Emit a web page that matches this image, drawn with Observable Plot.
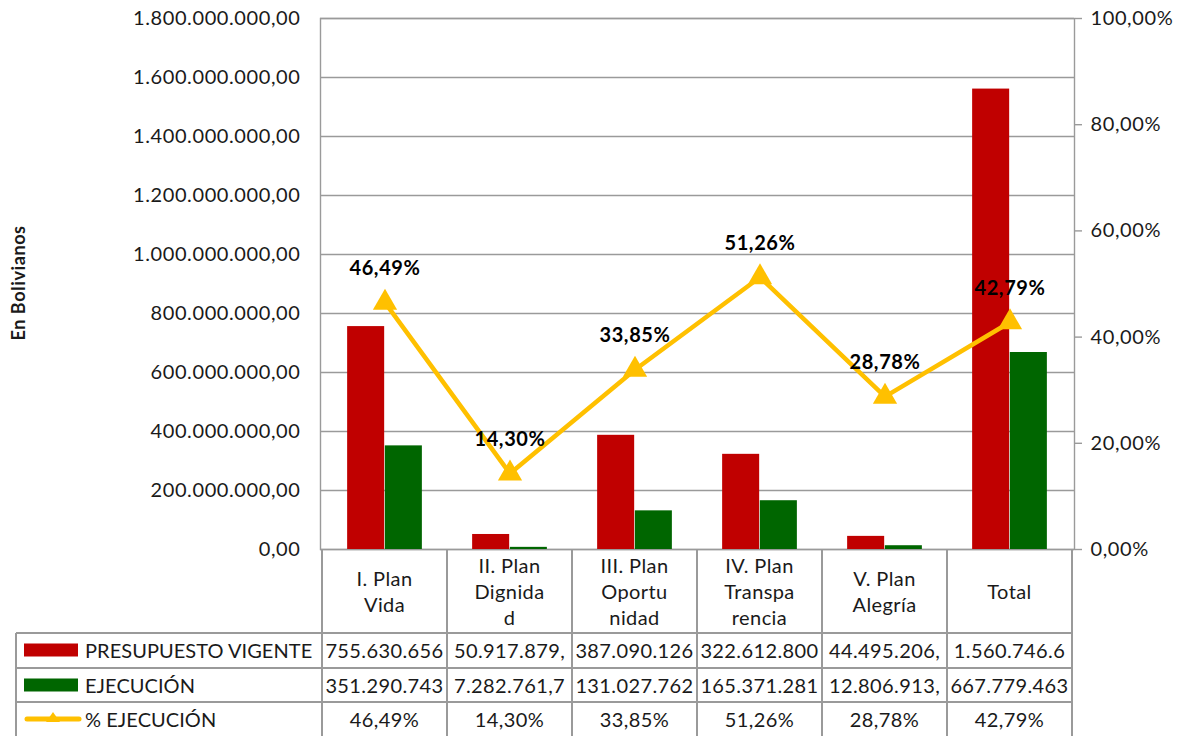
<!DOCTYPE html>
<html>
<head>
<meta charset="utf-8">
<script src="https://cdn.jsdelivr.net/npm/d3@7"></script>
<script src="https://cdn.jsdelivr.net/npm/@observablehq/plot@0.6"></script>
<style>
  html, body { margin: 0; padding: 0; background: #fff; }
  #wrap { position: relative; width: 1186px; height: 736px; overflow: hidden; font-family: Lato, "Noto Sans", sans-serif; color: #1a1a1a; }
  #chart { position: absolute; left: 0; top: 0; }
  #chart text { letter-spacing: 0.6px; }
  .hl, .vl { position: absolute; background: #9a9a9a; }
  .cell { position: absolute; display: flex; align-items: center; justify-content: center; text-align: center; font-size: 20px; line-height: 26px; white-space: nowrap; letter-spacing: 0.4px; }
  .rowlab { position: absolute; display: flex; align-items: center; font-size: 20px; white-space: nowrap; letter-spacing: 0.05px; }
  #ytitle { position: absolute; left: 18px; top: 283px; transform: translate(-50%, -50%) rotate(-90deg); font-weight: bold; font-size: 18px; letter-spacing: 0.6px; white-space: nowrap; }
</style>
</head>
<body>
<div id="wrap">
  <div id="chart"></div>
  <div id="ytitle">En Bolivianos</div>
</div>
<script>
// ---- data ----
const categories = ["I. Plan Vida", "II. Plan Dignidad", "III. Plan Oportunidad", "IV. Plan Transparencia", "V. Plan Alegría", "Total"];
const categoryLines = [["I. Plan", "Vida"], ["II. Plan", "Dignida", "d"], ["III. Plan", "Oportu", "nidad"], ["IV. Plan", "Transpa", "rencia"], ["V. Plan", "Alegría"], ["Total"]];
const presupuesto = [755630656, 50917879, 387090126, 322612800, 44495206, 1560746600];
const ejecucion = [351290743, 7282761.7, 131027762, 165371281, 12806913, 667779463];
const pctEjecucion = [46.49, 14.30, 33.85, 51.26, 28.78, 42.79];
const presupuestoLabels = ["755.630.656", "50.917.879,", "387.090.126", "322.612.800", "44.495.206,", "1.560.746.6"];
const ejecucionLabels = ["351.290.743", "7.282.761,7", "131.027.762", "165.371.281", "12.806.913,", "667.779.463"];
const pctLabels = ["46,49%", "14,30%", "33,85%", "51,26%", "28,78%", "42,79%"];
const seriesNames = ["PRESUPUESTO VIGENTE", "EJECUCIÓN", "% EJECUCIÓN"];
const leftTicks = [0, 2e8, 4e8, 6e8, 8e8, 1e9, 1.2e9, 1.4e9, 1.6e9, 1.8e9];
const rightTicks = [0, 20, 40, 60, 80, 100];
const yMax = 1.8e9;
const pctMax = 100;

const colors = { pres: "#C00000", ejec: "#006600", pct: "#FFC000", grid: "#9a9a9a" };

const rows = categories.map((c, i) => ({
  cat: c, pres: presupuesto[i], ejec: ejecucion[i], pct: pctEjecucion[i], pctLabel: pctLabels[i]
}));
const pctToY = p => p / pctMax * yMax;

const W = 1186, mL = 320, mR = 112, mT = 18, plotBottom = 549;
const bw = (W - mL - mR) / categories.length;

const fmtLeft = v => d3.format(",.2f")(v).replace(/,/g, "#").replace(/\./g, ",").replace(/#/g, ".");

const plot = Plot.plot({
  width: W,
  height: plotBottom + 12,
  marginLeft: mL,
  marginRight: mR,
  marginTop: mT,
  marginBottom: 12,
  style: { fontFamily: "Lato, 'Noto Sans', sans-serif", fontSize: "20px", color: "#1a1a1a", background: "transparent" },
  x: { type: "band", domain: categories, padding: 0, axis: null },
  y: { domain: [0, yMax], axis: null },
  marks: [
    Plot.gridY(leftTicks, { stroke: colors.grid, strokeOpacity: 1, strokeWidth: 1.4 }),
    Plot.frame({ stroke: colors.grid, strokeWidth: 1.4 }),
    Plot.axisY(leftTicks, { anchor: "left", tickSize: 0, tickPadding: 20, tickFormat: fmtLeft, fill: "#1a1a1a" }),
    Plot.axisY(rightTicks.map(pctToY), { anchor: "right", tickSize: 7, tickPadding: 9, stroke: colors.grid, strokeWidth: 1.4,
      tickFormat: v => d3.format(".2f")(v / yMax * pctMax).replace(".", ",") + "%", fill: "#1a1a1a" }),
    Plot.barY(rows, { x: "cat", y: "pres", fill: colors.pres, insetLeft: bw * 0.2, insetRight: bw * 0.5 }),
    Plot.barY(rows, { x: "cat", y: "ejec", fill: colors.ejec, insetLeft: bw * 0.5, insetRight: bw * 0.2 }),
    Plot.line(rows, { x: "cat", y: d => pctToY(d.pct), stroke: colors.pct, strokeWidth: 4.5 }),
    Plot.dot(rows, { x: "cat", y: d => pctToY(d.pct), symbol: "triangle", r: 9, fill: colors.pct, stroke: "none" }),
    Plot.text(rows, { x: "cat", y: d => pctToY(d.pct), text: "pctLabel", dy: -34, fontWeight: "bold", fontSize: 20, fill: "#000" })
  ]
});
document.getElementById("chart").appendChild(plot);

// ---- data table below the plot, aligned with the x band scale ----
const wrap = document.getElementById("wrap");
const xs = plot.scale("x");
const tableLeft = 16, headerBottom = 633, rowH = 34.5, tableBottom = 740;
const edges = categories.map(c => xs.apply(c));
const bandW = xs.bandwidth;
const lastEdge = edges[edges.length - 1] + bandW;

function el(cls, css, html) {
  const d = document.createElement("div");
  d.className = cls;
  Object.assign(d.style, css);
  if (html !== undefined) d.innerHTML = html;
  wrap.appendChild(d);
  return d;
}
for (let r = 0; r < 3; r++) {
  const y = headerBottom + r * rowH;
  el("hl", { left: tableLeft + "px", top: (y - 1) + "px", width: (lastEdge - tableLeft) + "px", height: "2px" });
}
el("vl", { left: (tableLeft - 1) + "px", top: headerBottom + "px", width: "2px", height: (tableBottom - headerBottom) + "px" });
[...edges, lastEdge].forEach(x => {
  el("vl", { left: (x - 1) + "px", top: plotBottom + "px", width: "2px", height: (tableBottom - plotBottom) + "px" });
});
categories.forEach((c, i) => {
  el("cell", { left: edges[i] + "px", top: plotBottom + "px", width: bandW + "px", height: (headerBottom - plotBottom) + "px" },
    categoryLines[i].join("<br>"));
});
const rowValues = [presupuestoLabels, ejecucionLabels, pctLabels];
const swatches = [
  `<svg width="56" height="14" style="margin-right:5px"><rect x="0" y="0.5" width="54" height="13" fill="${colors.pres}"/></svg>`,
  `<svg width="56" height="14" style="margin-right:5px"><rect x="0" y="0.5" width="54" height="13" fill="${colors.ejec}"/></svg>`,
  `<svg width="58" height="16" style="margin-right:3px"><line x1="3" y1="8" x2="55" y2="8" stroke="${colors.pct}" stroke-width="5" stroke-linecap="round"/><path d="M29,1 L36,11 L22,11 Z" fill="${colors.pct}"/></svg>`
];
seriesNames.forEach((name, r) => {
  const top = headerBottom + r * rowH;
  el("rowlab", { left: (tableLeft + 8) + "px", top: top + "px", height: rowH + "px" }, swatches[r] + `<span>${name}</span>`);
  rowValues[r].forEach((v, i) => {
    el("cell", { left: edges[i] + "px", top: top + "px", width: bandW + "px", height: rowH + "px" }, v);
  });
});
</script>
</body>
</html>
